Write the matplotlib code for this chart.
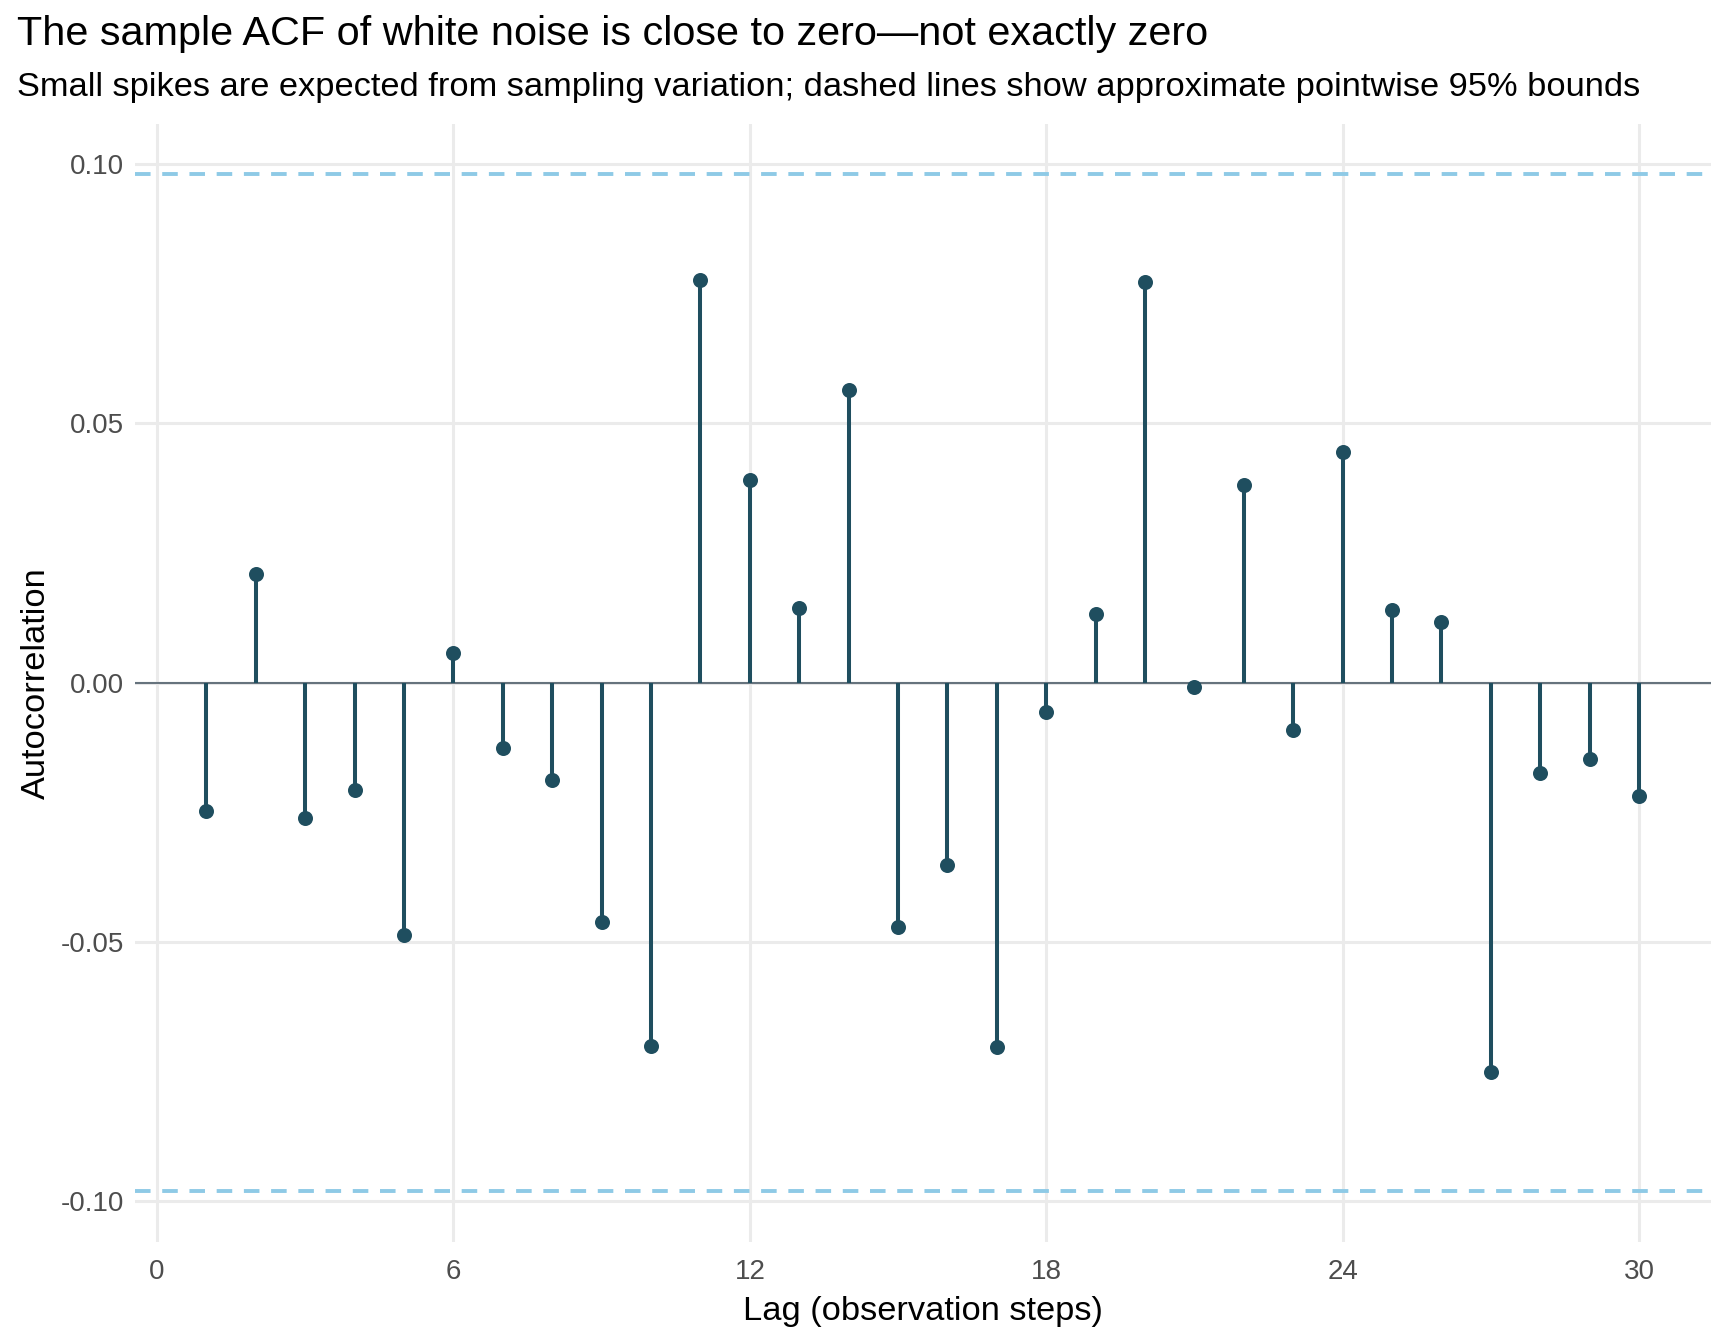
import numpy as np
import matplotlib
matplotlib.use("Agg")
import matplotlib.pyplot as plt

plt.rcParams["font.family"] = ["Liberation Sans", "DejaVu Sans"]

lags = list(range(1, 31))
acf_values = [
    -0.0247, 0.0209, -0.0260, -0.0206, -0.0487, 0.0057, -0.0126, -0.0187, -0.0462, -0.0700,
    0.0777, 0.0390, 0.0144, 0.0565, -0.0470, -0.0351, -0.0702, -0.0057, 0.0132, 0.0772,
    -0.0009, 0.0381, -0.0091, 0.0445, 0.0140, 0.0117, -0.0751, -0.0174, -0.0147, -0.0219,
]
n_obs = 400
bound = 1.96 / np.sqrt(n_obs)
x_ticks = [0, 6, 12, 18, 24, 30]
y_ticks = [-0.10, -0.05, 0.00, 0.05, 0.10]

stem_color = "#1f4e5f"
bound_color = "#8ecae6"

fig = plt.figure(figsize=(8.64, 6.72), dpi=200)
ax = fig.add_axes([0.078, 0.076, 0.912, 0.832])

ax.axhline(0, color="#66737d", lw=0.75, zorder=2)
for b in (bound, -bound):
    ax.axhline(b, color=bound_color, lw=1.4, ls=(0, (4, 3)), zorder=2)
ax.vlines(lags, 0, acf_values, color=stem_color, lw=1.45, zorder=3)
ax.plot(lags, acf_values, "o", color=stem_color, ms=4.4, zorder=4)

span = 2 * bound
ax.set_ylim(-bound - 0.05 * span, bound + 0.05 * span)
xr = lags[-1] - lags[0]
ax.set_xlim(lags[0] - 0.05 * xr, lags[-1] + 0.05 * xr)
ax.set_xticks(x_ticks)
ax.set_yticks(y_ticks)
ax.set_yticklabels([f"{v:.2f}" for v in y_ticks])

ax.grid(True, color="#ebebeb", lw=1.1)
ax.set_axisbelow(True)
for s in ax.spines.values():
    s.set_visible(False)
ax.tick_params(length=0, labelsize=10, labelcolor="#4d4d4d", pad=4)
ax.tick_params(axis="x", pad=6)

ax.set_xlabel("Lag (observation steps)", fontsize=12.4, labelpad=4)
ax.set_ylabel("Autocorrelation", fontsize=12.4, labelpad=3)

fig.text(0.0096, 0.975, "The sample ACF of white noise is close to zero\u2014not exactly zero",
         fontsize=14.9, va="center", ha="left")
fig.text(0.0096, 0.935, "Small spikes are expected from sampling variation; dashed lines show approximate pointwise 95% bounds",
         fontsize=12.4, va="center", ha="left")

fig.savefig("out.png", dpi=200, facecolor="white")
